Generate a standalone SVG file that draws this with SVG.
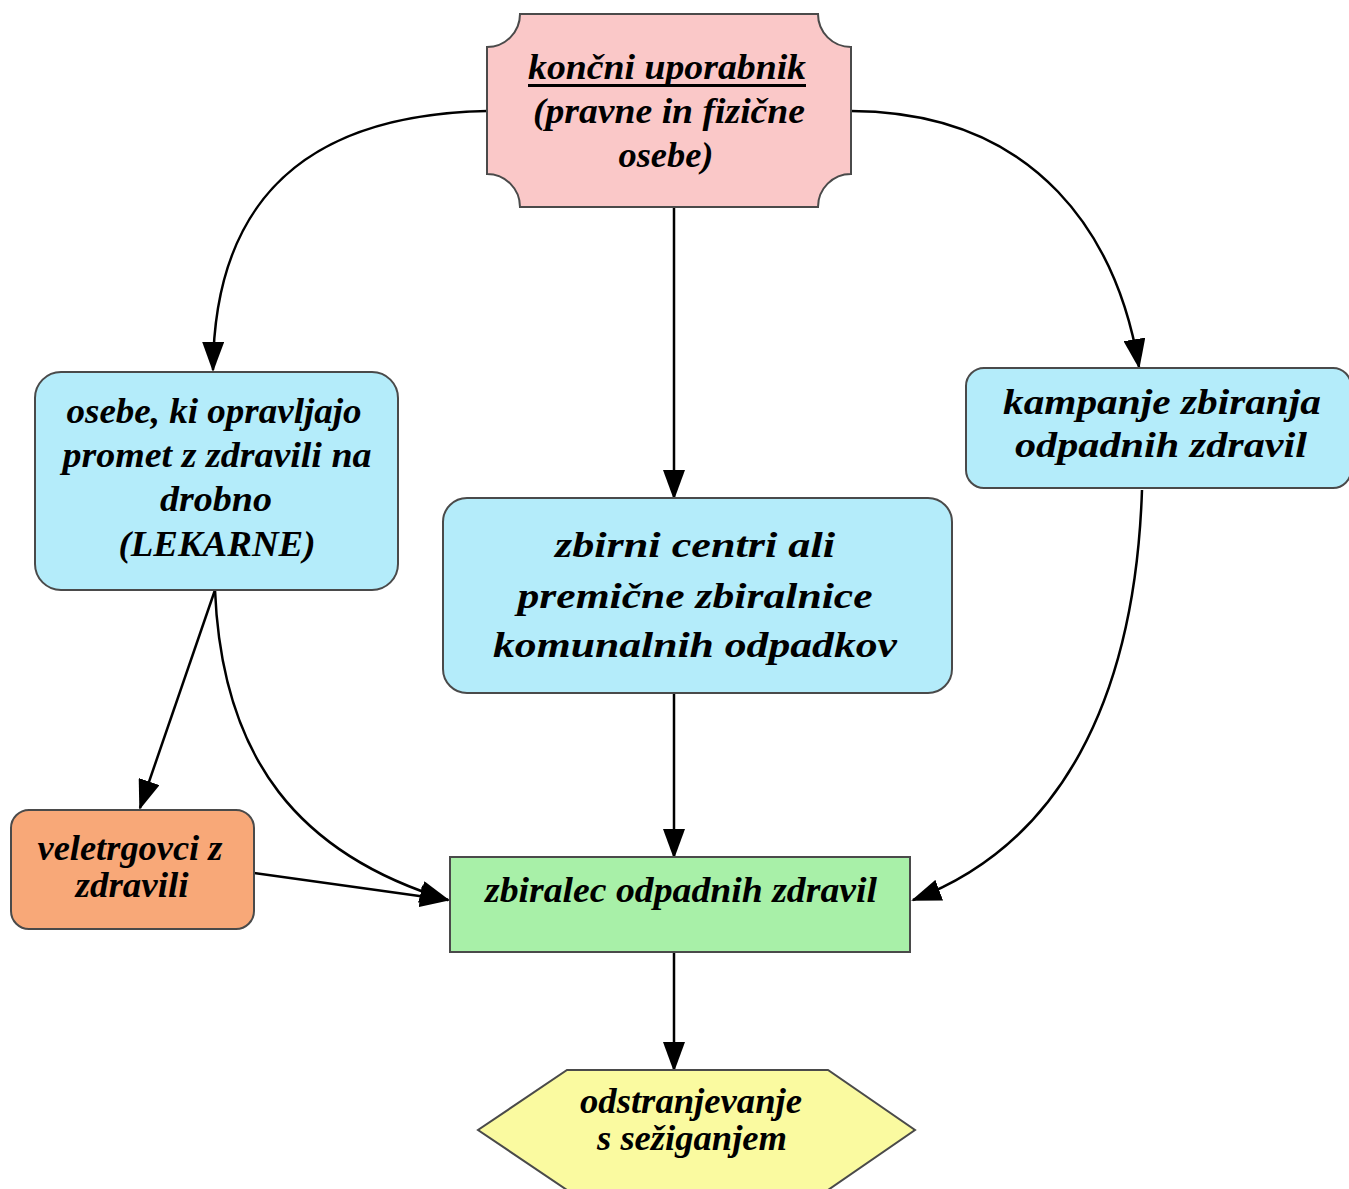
<svg xmlns="http://www.w3.org/2000/svg" width="1349" height="1189" viewBox="0 0 1349 1189">
<defs>
<style>
.n{stroke:#4a4a4a;stroke-width:2}
.t{font-family:"Liberation Serif","Times New Roman",serif;font-weight:bold;font-style:italic;font-size:35px;fill:#000;text-anchor:middle}
.c{fill:none;stroke:#000;stroke-width:2.5}
</style>
<marker id="ah" markerUnits="userSpaceOnUse" markerWidth="30" markerHeight="22" refX="28" refY="11" orient="auto" viewBox="0 0 30 22">
<path d="M0,0 L30,11 L0,22 Z" fill="#000"/>
</marker>
</defs>
<rect width="1349" height="1189" fill="#fff"/>
<g id="connectors">
<path class="c" d="M487,111 C290,115 214,215 213,370" marker-end="url(#ah)"/>
<path class="c" d="M851,111 C1040,112 1118,240 1139,367" marker-end="url(#ah)"/>
<path class="c" d="M674,207 L674,498" marker-end="url(#ah)"/>
<path class="c" d="M215,590 L140,808" marker-end="url(#ah)"/>
<path class="c" d="M215,590 C222,760 300,855 448,900" marker-end="url(#ah)"/>
<path class="c" d="M254,873 L448,900" marker-end="url(#ah)"/>
<path class="c" d="M674,693 L674,857" marker-end="url(#ah)"/>
<path class="c" d="M1142,490 C1135,700 1060,845 913,900" marker-end="url(#ah)"/>
<path class="c" d="M674,952 L674,1070" marker-end="url(#ah)"/>
</g>
<g id="koncni">
<path class="n" fill="#fac8c8" d="M520,14 L818,14 A33,33 0 0 0 851,47 L851,174 A33,33 0 0 0 818,207 L520,207 A33,33 0 0 0 487,174 L487,47 A33,33 0 0 0 520,14 Z"/>
<text class="t" x="667" y="79" textLength="278" lengthAdjust="spacingAndGlyphs">končni uporabnik</text>
<rect x="528" y="84" width="278" height="3" fill="#000"/>
<text class="t" x="669" y="123" textLength="272" lengthAdjust="spacingAndGlyphs">(pravne in fizične</text>
<text class="t" x="666" y="167" textLength="95" lengthAdjust="spacingAndGlyphs">osebe)</text>
</g>
<g id="lekarne">
<rect class="n" x="35" y="372" width="363" height="218" rx="26" fill="#b4ecfa"/>
<text class="t" x="214" y="423" textLength="295" lengthAdjust="spacingAndGlyphs">osebe, ki opravljajo</text>
<text class="t" x="217" y="467" textLength="309" lengthAdjust="spacingAndGlyphs">promet z zdravili na</text>
<text class="t" x="216" y="511" textLength="112" lengthAdjust="spacingAndGlyphs">drobno</text>
<text class="t" x="217" y="556" textLength="197" lengthAdjust="spacingAndGlyphs">(LEKARNE)</text>
</g>
<g id="zbirni">
<rect class="n" x="443" y="498" width="509" height="195" rx="24" fill="#b4ecfa"/>
<text class="t" x="695" y="557" textLength="280" lengthAdjust="spacingAndGlyphs">zbirni centri ali</text>
<text class="t" x="695" y="608" textLength="355" lengthAdjust="spacingAndGlyphs">premične zbiralnice</text>
<text class="t" x="695" y="657" textLength="404" lengthAdjust="spacingAndGlyphs">komunalnih odpadkov</text>
</g>
<g id="kampanje">
<rect class="n" x="966" y="368" width="385" height="120" rx="18" fill="#b4ecfa"/>
<text class="t" x="1162" y="414" textLength="318" lengthAdjust="spacingAndGlyphs">kampanje zbiranja</text>
<text class="t" x="1161" y="457" textLength="292" lengthAdjust="spacingAndGlyphs">odpadnih zdravil</text>
</g>
<g id="veletrgovci">
<rect class="n" x="11" y="810" width="243" height="119" rx="18" fill="#f8a878"/>
<text class="t" x="130" y="860" textLength="185" lengthAdjust="spacingAndGlyphs">veletrgovci z</text>
<text class="t" x="132" y="897" textLength="113" lengthAdjust="spacingAndGlyphs">zdravili</text>
</g>
<g id="zbiralec">
<rect class="n" x="450" y="857" width="460" height="95" fill="#a8f0a8"/>
<text class="t" x="681" y="902" textLength="392" lengthAdjust="spacingAndGlyphs">zbiralec odpadnih zdravil</text>
</g>
<g id="odstranjevanje">
<path class="n" fill="#fafaa0" d="M567,1070 L828,1070 L915,1130 L828,1190 L567,1190 L478,1130 Z"/>
<text class="t" x="691" y="1113" textLength="222" lengthAdjust="spacingAndGlyphs">odstranjevanje</text>
<text class="t" x="692" y="1150" textLength="190" lengthAdjust="spacingAndGlyphs">s sežiganjem</text>
</g>
</svg>
